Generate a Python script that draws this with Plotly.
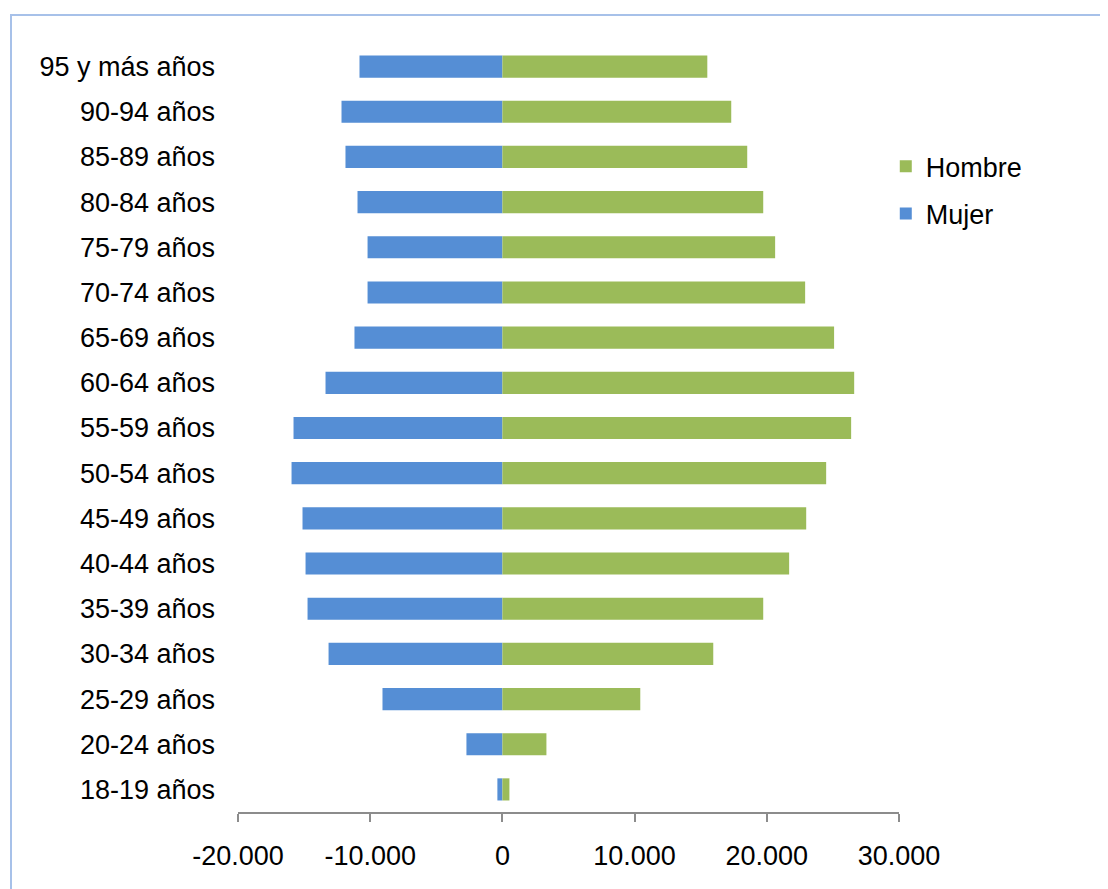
import plotly.graph_objects as go

# Age groups, bottom to top
grupos = ['18-19 años', '20-24 años', '25-29 años', '30-34 años', '35-39 años',
          '40-44 años', '45-49 años', '50-54 años', '55-59 años', '60-64 años',
          '65-69 años', '70-74 años', '75-79 años', '80-84 años', '85-89 años',
          '90-94 años', '95 y más años']

hombre = [530, 3330, 10430, 15950, 19730, 21690, 22980, 24490, 26380, 26610,
          25090, 22900, 20630, 19730, 18520, 17310, 15500]

mujer = [-380, -2720, -9070, -13150, -14740, -14890, -15120, -15950, -15800, -13380,
         -11190, -10200, -10200, -10960, -11870, -12170, -10810]

tick_vals = [-20000, -10000, 0, 10000, 20000, 30000]
tick_text = ['-20.000', '-10.000', '0', '10.000', '20.000', '30.000']

# page body has an 8px margin, so the figure is laid out from (8, 8)
W, H = 1100, 881
L, R, T, B = 230, 209, 36, 77
pw, ph = W - L - R, H - T - B

fig = go.Figure()

fig.add_trace(go.Bar(
    y=grupos, x=mujer, name='Mujer', orientation='h',
    legendgroup='m', legendrank=2,
    marker=dict(color='#558ED5', line=dict(width=0))
))
fig.add_trace(go.Bar(
    y=grupos, x=hombre, name='Hombre', orientation='h',
    legendgroup='h', legendrank=1,
    marker=dict(color='#9BBB59', line=dict(width=0))
))

# outer chart border (light blue, runs off the right/bottom edges)
fig.add_shape(
    type='rect', xref='paper', yref='paper',
    x0=(3 - L) / pw, x1=(W + 20 - L) / pw,
    y0=-(B + 20) / ph, y1=(H - B - 7) / ph,
    line=dict(color='#A7C1E9', width=2), fillcolor='rgba(0,0,0,0)', layer='below'
)

fig.update_layout(
    width=W, height=H,
    margin=dict(l=L, r=R, t=T, b=B),
    barmode='relative',
    bargap=0.51,
    plot_bgcolor='white',
    paper_bgcolor='white',
    font=dict(family='Liberation Sans, Arial, sans-serif', size=27, color='black'),
    legend=dict(
        x=0.98, y=0.872, xanchor='left', yanchor='top',
        traceorder='grouped', font=dict(size=27),
        itemwidth=30, tracegroupgap=9
    ),
    xaxis=dict(
        range=[-20000, 30000],
        tickvals=tick_vals, ticktext=tick_text,
        showgrid=False, zeroline=False,
        showline=True, linecolor='#8C8C8C', linewidth=2,
        ticks='outside', ticklen=8, tickwidth=2, tickcolor='#8C8C8C',
        ticklabelstandoff=11
    ),
    yaxis=dict(
        showgrid=False, zeroline=False, showline=False,
        ticks='', ticklabelstandoff=22
    ),
    showlegend=True
)

fig.write_html("out.html")
